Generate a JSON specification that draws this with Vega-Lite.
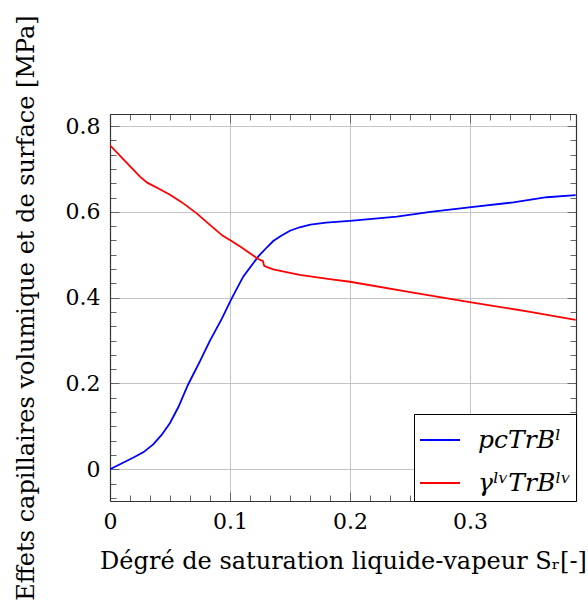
{
  "$schema": "https://vega.github.io/schema/vega-lite/v6.json",
  "width": 466,
  "height": 387,
  "autosize": {"type": "none"},
  "padding": {"left": 110, "top": 114, "right": 12, "bottom": 100},
  "background": "white",
  "config": {
    "font": "DejaVu Serif",
    "view": {"stroke": null},
    "axis": {
      "labelFont": "DejaVu Serif",
      "titleFont": "DejaVu Serif",
      "labelColor": "black",
      "titleColor": "black",
      "labelFontSize": 22,
      "titleFontSize": 24,
      "titleFontWeight": "normal",
      "domainColor": "#333333",
      "domainWidth": 1.2,
      "tickColor": "#666666",
      "tickWidth": 1,
      "gridColor": "#c4c4c4",
      "gridWidth": 1
    },
    "legend": {
      "labelFont": "DejaVu Serif",
      "labelFontSize": 25,
      "labelFontStyle": "italic",
      "labelColor": "black"
    }
  },
  "data": {
    "values": [
      {"x": 0, "y": 0.0, "s": "pcTrBˡ"},
      {"x": 0.01, "y": 0.014, "s": "pcTrBˡ"},
      {"x": 0.02, "y": 0.028, "s": "pcTrBˡ"},
      {"x": 0.028, "y": 0.040, "s": "pcTrBˡ"},
      {"x": 0.036, "y": 0.058, "s": "pcTrBˡ"},
      {"x": 0.043, "y": 0.080, "s": "pcTrBˡ"},
      {"x": 0.05, "y": 0.108, "s": "pcTrBˡ"},
      {"x": 0.057, "y": 0.145, "s": "pcTrBˡ"},
      {"x": 0.065, "y": 0.197, "s": "pcTrBˡ"},
      {"x": 0.075, "y": 0.252, "s": "pcTrBˡ"},
      {"x": 0.0833, "y": 0.300, "s": "pcTrBˡ"},
      {"x": 0.093, "y": 0.350, "s": "pcTrBˡ"},
      {"x": 0.101, "y": 0.396, "s": "pcTrBˡ"},
      {"x": 0.111, "y": 0.449, "s": "pcTrBˡ"},
      {"x": 0.1236, "y": 0.496, "s": "pcTrBˡ"},
      {"x": 0.131, "y": 0.518, "s": "pcTrBˡ"},
      {"x": 0.136, "y": 0.532, "s": "pcTrBˡ"},
      {"x": 0.143, "y": 0.545, "s": "pcTrBˡ"},
      {"x": 0.15, "y": 0.556, "s": "pcTrBˡ"},
      {"x": 0.158, "y": 0.564, "s": "pcTrBˡ"},
      {"x": 0.167, "y": 0.570, "s": "pcTrBˡ"},
      {"x": 0.18, "y": 0.575, "s": "pcTrBˡ"},
      {"x": 0.2, "y": 0.579, "s": "pcTrBˡ"},
      {"x": 0.239, "y": 0.589, "s": "pcTrBˡ"},
      {"x": 0.267, "y": 0.600, "s": "pcTrBˡ"},
      {"x": 0.301, "y": 0.611, "s": "pcTrBˡ"},
      {"x": 0.336, "y": 0.622, "s": "pcTrBˡ"},
      {"x": 0.364, "y": 0.634, "s": "pcTrBˡ"},
      {"x": 0.388, "y": 0.639, "s": "pcTrBˡ"},
      {"x": 0, "y": 0.755, "s": "γˡᵛTrBˡᵛ"},
      {"x": 0.014, "y": 0.714, "s": "γˡᵛTrBˡᵛ"},
      {"x": 0.025, "y": 0.682, "s": "γˡᵛTrBˡᵛ"},
      {"x": 0.031, "y": 0.668, "s": "γˡᵛTrBˡᵛ"},
      {"x": 0.04, "y": 0.655, "s": "γˡᵛTrBˡᵛ"},
      {"x": 0.05, "y": 0.640, "s": "γˡᵛTrBˡᵛ"},
      {"x": 0.06, "y": 0.622, "s": "γˡᵛTrBˡᵛ"},
      {"x": 0.072, "y": 0.597, "s": "γˡᵛTrBˡᵛ"},
      {"x": 0.083, "y": 0.570, "s": "γˡᵛTrBˡᵛ"},
      {"x": 0.094, "y": 0.544, "s": "γˡᵛTrBˡᵛ"},
      {"x": 0.1006, "y": 0.533, "s": "γˡᵛTrBˡᵛ"},
      {"x": 0.11, "y": 0.516, "s": "γˡᵛTrBˡᵛ"},
      {"x": 0.1236, "y": 0.490, "s": "γˡᵛTrBˡᵛ"},
      {"x": 0.126, "y": 0.487, "s": "γˡᵛTrBˡᵛ"},
      {"x": 0.1275, "y": 0.485, "s": "γˡᵛTrBˡᵛ"},
      {"x": 0.128, "y": 0.479, "s": "γˡᵛTrBˡᵛ"},
      {"x": 0.1285, "y": 0.474, "s": "γˡᵛTrBˡᵛ"},
      {"x": 0.131, "y": 0.471, "s": "γˡᵛTrBˡᵛ"},
      {"x": 0.136, "y": 0.466, "s": "γˡᵛTrBˡᵛ"},
      {"x": 0.158, "y": 0.453, "s": "γˡᵛTrBˡᵛ"},
      {"x": 0.183, "y": 0.443, "s": "γˡᵛTrBˡᵛ"},
      {"x": 0.2, "y": 0.437, "s": "γˡᵛTrBˡᵛ"},
      {"x": 0.25, "y": 0.413, "s": "γˡᵛTrBˡᵛ"},
      {"x": 0.301, "y": 0.389, "s": "γˡᵛTrBˡᵛ"},
      {"x": 0.35, "y": 0.367, "s": "γˡᵛTrBˡᵛ"},
      {"x": 0.388, "y": 0.348, "s": "γˡᵛTrBˡᵛ"}
    ]
  },
  "layer": [
    {
      "mark": {"type": "line", "strokeWidth": 1.8, "clip": true},
      "encoding": {
        "x": {
          "field": "x", "type": "quantitative",
          "scale": {"domain": [0, 0.3883], "nice": false, "zero": false},
          "axis": {
            "orient": "bottom",
            "title": "Dégré de saturation liquide-vapeur Sᵣ[-]",
            "titleX": 233, "titleY": 67, "titleBaseline": "alphabetic", "titleAlign": "center",
            "values": [0, 0.016667, 0.033333, 0.05, 0.066667, 0.083333, 0.1, 0.116667, 0.133333, 0.15, 0.166667, 0.183333, 0.2, 0.216667, 0.233333, 0.25, 0.266667, 0.283333, 0.3, 0.316667, 0.333333, 0.35, 0.366667, 0.383333],
            "labelExpr": "abs(datum.value*10 - round(datum.value*10)) < 0.001 ? format(datum.value, '.1~f') : ''",
            "labelPadding": 19,
            "labelFlush": false,
            "labelOverlap": false,
            "tickSize": {"condition": {"test": "abs(datum.value*10 - round(datum.value*10)) < 0.001", "value": -9}, "value": -6},
            "gridOpacity": {"condition": {"test": "abs(datum.value*10 - round(datum.value*10)) < 0.001", "value": 1}, "value": 0}
          }
        },
        "y": {
          "field": "y", "type": "quantitative",
          "scale": {"domain": [-0.074, 0.828], "nice": false, "zero": false},
          "axis": {
            "orient": "left",
            "title": "Effets capillaires volumique et de surface [MPa]",
            "titleX": -77, "titleY": 193.5, "titleAngle": 270, "titleBaseline": "alphabetic", "titleAlign": "center",
            "values": [-0.066667, -0.033333, 0, 0.033333, 0.066667, 0.1, 0.133333, 0.166667, 0.2, 0.233333, 0.266667, 0.3, 0.333333, 0.366667, 0.4, 0.433333, 0.466667, 0.5, 0.533333, 0.566667, 0.6, 0.633333, 0.666667, 0.7, 0.733333, 0.766667, 0.8],
            "labelExpr": "abs(datum.value*5 - round(datum.value*5)) < 0.001 ? format(datum.value, '.1~f') : ''",
            "labelPadding": 19,
            "labelFlush": false,
            "labelOverlap": false,
            "tickSize": {"condition": {"test": "abs(datum.value*5 - round(datum.value*5)) < 0.001", "value": -9}, "value": -6},
            "gridOpacity": {"condition": {"test": "abs(datum.value*5 - round(datum.value*5)) < 0.001", "value": 1}, "value": 0}
          }
        },
        "color": {
          "field": "s", "type": "nominal",
          "scale": {"domain": ["pcTrBˡ", "γˡᵛTrBˡᵛ"], "range": ["#0000ff", "#ff0000"]},
          "legend": {
            "title": null,
            "orient": "bottom-right",
            "offset": 0,
            "strokeColor": "black",
            "fillColor": "white",
            "padding": 5,
            "symbolType": "stroke",
            "symbolSize": 1600,
            "symbolStrokeWidth": 2,
            "labelOffset": 17,
            "rowPadding": 9,
            "zindex": 2
          }
        }
      }
    },
    {
      "mark": {"type": "line", "opacity": 0},
      "encoding": {
        "x": {
          "field": "x", "type": "quantitative",
          "axis": {
            "orient": "top", "title": null, "labels": false, "grid": false,
            "values": [0, 0.016667, 0.033333, 0.05, 0.066667, 0.083333, 0.1, 0.116667, 0.133333, 0.15, 0.166667, 0.183333, 0.2, 0.216667, 0.233333, 0.25, 0.266667, 0.283333, 0.3, 0.316667, 0.333333, 0.35, 0.366667, 0.383333],
            "tickSize": {"condition": {"test": "abs(datum.value*10 - round(datum.value*10)) < 0.001", "value": -9}, "value": -6}
          }
        },
        "y": {
          "field": "y", "type": "quantitative",
          "axis": {
            "orient": "right", "title": null, "labels": false, "grid": false,
            "values": [-0.066667, -0.033333, 0, 0.033333, 0.066667, 0.1, 0.133333, 0.166667, 0.2, 0.233333, 0.266667, 0.3, 0.333333, 0.366667, 0.4, 0.433333, 0.466667, 0.5, 0.533333, 0.566667, 0.6, 0.633333, 0.666667, 0.7, 0.733333, 0.766667, 0.8],
            "tickSize": {"condition": {"test": "abs(datum.value*5 - round(datum.value*5)) < 0.001", "value": -9}, "value": -6}
          }
        }
      }
    }
  ],
  "resolve": {"axis": {"x": "independent", "y": "independent"}}
}
